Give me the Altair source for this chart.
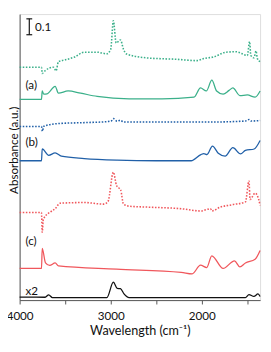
import altair as alt
import pandas as pd

# ---- data (wavenumber, absorbance incl. vertical offset) ----
green_dot_wn = [4000,3760,3752,3716,3628,3600,3574,3503,3397,3290,3149,3042,3000,2971,2940,2893,2860,2830,2617,2266,2053,1978,1872,1734,1627,1500,1475,1462,1428,1404,1390,1360]
green_dot_a = [1.466,1.466,1.427,1.446,1.466,1.443,1.501,1.511,1.530,1.560,1.560,1.550,1.579,1.758,1.618,1.637,1.579,1.550,1.525,1.515,1.507,1.520,1.530,1.560,1.563,1.540,1.627,1.540,1.525,1.568,1.520,1.501]

green_sol_wn = [4000,3760,3752,3735,3699,3610,3574,3468,3330,3149,2798,2436,2085,2014,1950,1890,1837,1766,1700,1659,1582,1500,1415,1360]
green_sol_a = [1.263,1.263,1.316,1.296,1.298,1.345,1.302,1.316,1.302,1.282,1.267,1.267,1.277,1.335,1.316,1.384,1.316,1.296,1.320,1.335,1.287,1.291,1.277,1.316]

blue_dot_wn = [4000,3760,3750,3735,3574,3290,3042,2990,2971,2930,2893,2860,1872,1521,1482,1460,1360]
blue_dot_a = [1.092,1.092,1.063,1.094,1.111,1.117,1.123,1.129,1.142,1.126,1.132,1.121,1.121,1.127,1.136,1.127,1.130]

blue_sol_wn = [4000,3760,3752,3681,3610,3542,3290,2930,2500,2117,2010,1978,1943,1883,1819,1744,1659,1574,1521,1425,1360]
blue_sol_a = [0.877,0.877,0.951,0.911,0.926,0.906,0.891,0.881,0.877,0.877,0.916,0.922,0.916,0.969,0.924,0.906,0.959,0.920,0.942,0.951,1.004]

red_dot_wn = [4000,3760,3752,3740,3649,3610,3556,3290,3078,3030,2971,2936,2890,2860,2798,2585,2226,2010,1904,1890,1798,1659,1521,1482,1470,1415,1375,1360]
red_dot_a = [0.551,0.551,0.427,0.509,0.560,0.575,0.610,0.614,0.604,0.620,0.805,0.721,0.692,0.604,0.591,0.585,0.575,0.561,0.575,0.561,0.585,0.601,0.618,0.750,0.633,0.673,0.633,0.596]

red_sol_wn = [4000,3760,3752,3716,3670,3610,3574,2936,2226,2106,2014,1946,1890,1766,1641,1582,1521,1415,1360]
red_sol_a = [0.199,0.199,0.326,0.234,0.218,0.234,0.215,0.195,0.175,0.165,0.220,0.205,0.279,0.199,0.247,0.209,0.234,0.257,0.312]

black_wn = [4000,3720,3681,3640,3042,2971,2929,2893,2854,2798,1521,1482,1428,1383,1360]
black_a = [0.019,0.018,0.033,0.016,0.016,0.113,0.074,0.072,0.039,0.016,0.016,0.035,0.023,0.039,0.023]

series_names = ["a_dot", "a_sol", "b_dot", "b_sol", "c_dot", "c_sol", "x2"]
series_colors = ["#3BB08A", "#3BB08A", "#2160A8", "#2160A8", "#F0575C", "#F0575C", "#111111"]

label_text = ["(a)", "(b)", "(c)", "x2"]
label_wn = [3936, 3936, 3936, 3936]
label_a = [1.351, 0.994, 0.374, 0.058]

scale_bar_wn = 3894
scale_bar_cap = [3926, 3862]
scale_bar_a = [1.67, 1.77]
scale_bar_text = "0.1"
x_ticks = [4000, 3500, 3000, 2500, 2000, 1500]
x_domain = [4000, 1360]
y_domain = [0, 1.8]

FONT = "Lato"

def frame(name, wn, a):
    return pd.DataFrame({"wn": wn, "a": a, "series": name, "idx": range(len(wn))})

dot_df = pd.concat([frame("a_dot", green_dot_wn, green_dot_a),
                    frame("b_dot", blue_dot_wn, blue_dot_a),
                    frame("c_dot", red_dot_wn, red_dot_a)])
sol_df = pd.concat([frame("a_sol", green_sol_wn, green_sol_a),
                    frame("b_sol", blue_sol_wn, blue_sol_a),
                    frame("c_sol", red_sol_wn, red_sol_a),
                    frame("x2", black_wn, black_a)])

xs = alt.Scale(domain=x_domain, nice=False, zero=False)
ys = alt.Scale(domain=y_domain, nice=False, zero=False)
cs = alt.Scale(domain=series_names, range=series_colors)

x_axis = alt.Axis(values=x_ticks, labelExpr="datum.value % 1000 === 0 ? format(datum.value, 'd') : ''",
                  title="Wavelength (cm\u207b\u00b9)", grid=False, tickSize=4,
                  labelBaseline="alphabetic", labelPadding=16, labelFontSize=12, labelFont=FONT,
                  titleFontSize=13, titleFont=FONT, titleFontWeight="normal",
                  titleBaseline="alphabetic", titleY=36, labelColor="#111", titleColor="#111",
                  domainColor="#555", tickColor="#555", labelFlush=False)
y_axis = alt.Axis(title="Absorbance (a.u.)", labels=False, ticks=False, grid=False,
                  titleFontSize=12, titleFont=FONT, titleFontWeight="normal", titleColor="#111",
                  titleX=-6, titleY=140, titleBaseline="middle", titleAngle=270,
                  domainColor="#555")

dots = alt.Chart(dot_df).mark_line(interpolate="monotone", strokeWidth=1.6, strokeDash=[1.6, 1.6]).encode(
    x=alt.X("wn:Q", scale=xs, axis=x_axis),
    y=alt.Y("a:Q", scale=ys, axis=y_axis),
    color=alt.Color("series:N", scale=cs, legend=None),
    detail="series:N",
    order=alt.Order("idx:Q"),
)
sols = alt.Chart(sol_df).mark_line(interpolate="monotone", strokeWidth=1.3).encode(
    x=alt.X("wn:Q", scale=xs),
    y=alt.Y("a:Q", scale=ys),
    color=alt.Color("series:N", scale=cs, legend=None),
    detail="series:N",
    order=alt.Order("idx:Q"),
)

labels = alt.Chart(pd.DataFrame({"t": label_text, "wn": label_wn, "a": label_a})).mark_text(
    align="left", baseline="middle", fontSize=12, font=FONT, color="#111").encode(
    x=alt.X("wn:Q", scale=xs), y=alt.Y("a:Q", scale=ys), text="t:N")

bar_v = alt.Chart(pd.DataFrame({"wn": [scale_bar_wn], "a0": [scale_bar_a[0]], "a1": [scale_bar_a[1]]})).mark_rule(
    color="#111", strokeWidth=1.2).encode(
    x=alt.X("wn:Q", scale=xs), y=alt.Y("a0:Q", scale=ys), y2="a1:Q")
bar_caps = alt.Chart(pd.DataFrame({"w0": [scale_bar_cap[0]] * 2, "w1": [scale_bar_cap[1]] * 2, "a": scale_bar_a})).mark_rule(
    color="#111", strokeWidth=1.2).encode(
    x=alt.X("w0:Q", scale=xs), x2="w1:Q", y=alt.Y("a:Q", scale=ys))
bar_text = alt.Chart(pd.DataFrame({"t": [scale_bar_text], "wn": [scale_bar_cap[1] - 30],
                                   "a": [sum(scale_bar_a) / 2]})).mark_text(
    align="left", baseline="middle", fontSize=12, font=FONT, color="#111").encode(
    x=alt.X("wn:Q", scale=xs), y=alt.Y("a:Q", scale=ys), text="t:N")

chart = alt.layer(dots, sols, labels, bar_v, bar_caps, bar_text).properties(
    width=248, height=295,
    autosize=alt.AutoSizeParams(type="none"),
    padding={"left": 12, "top": 1, "right": 3, "bottom": 40},
).configure_view(stroke="#555", strokeWidth=1).configure(background="white")

chart.save("out.html", embed_options={"renderer": "svg", "actions": False})
